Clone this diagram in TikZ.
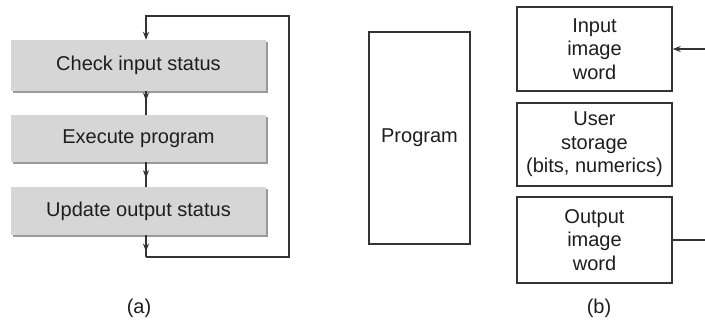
\documentclass[tikz,border=0pt]{standalone}
\usepackage{fontspec}
\setmainfont{Liberation Sans}
\usetikzlibrary{arrows.meta,decorations.markings,shadows}
\definecolor{boxgray}{HTML}{D6D6D6}
\definecolor{shadowc}{HTML}{9A9A9A}
\definecolor{linec}{HTML}{333333}
\definecolor{textc}{HTML}{1E1E1E}
\begin{document}
\begin{tikzpicture}[x=1pt,y=-1pt,
  line/.style={draw=linec, line width=1.4pt},
  arr/.style={line, -{Stealth[length=8pt,width=6pt]}},
  midarrow/.style={postaction={decorate}, decoration={markings, mark=at position #1 with {\arrow[linec]{Stealth[length=8pt,width=6pt]}}}},
  graybox/.style={fill=boxgray, minimum width=255pt, inner sep=0pt,
    general shadow={fill=shadowc, shadow xshift=2pt, shadow yshift=-2pt},
    font=\fontsize{20}{23}\selectfont, text=textc},
  wbox/.style={draw=linec, line width=1.4pt, inner sep=0pt, align=center,
    font=\fontsize{20}{23.5}\selectfont, text=textc},
  lab/.style={font=\fontsize{20}{23}\selectfont, text=textc},
]
\useasboundingbox[fill=white] (0,0) rectangle (705,322);

% (a)
\node[graybox, minimum height=51pt] (b1) at (138.5,65.5) {Check input status};
\node[graybox, minimum height=47pt] (b2) at (138.5,138.5) {Execute program};
\node[graybox, minimum height=48pt] (b3) at (138.5,211) {Update output status};

\coordinate (bl) at (146,257);
\coordinate (br) at (289,257);
\coordinate (tr) at (289,16);
\coordinate (tl) at (146,16);

\draw[line, midarrow=0.4] (b1.south -| tl) -- (b2.north -| tl);
\draw[line, midarrow=0.65] (b2.south -| tl) -- (b3.north -| tl);
\draw[line, midarrow=0.75] (b3.south -| bl) -- (bl);
\draw[arr, line join=miter] (bl) -- (br) -- (tr) -- (tl) -- (b1.north -| tl);

\node[lab] (la) at (139,308) {(a)};

% (b)
\node[wbox, minimum width=101pt, minimum height=212pt] (prog) at (419.5,138) {Program};
\node[wbox, minimum width=155pt, minimum height=84pt] (ib) at (594.5,49) {Input\\image\\word};
\node[wbox, minimum width=155pt, minimum height=83pt] (us) at (594.5,144.5) {User\\storage\\(bits, numerics)};
\node[wbox, minimum width=155pt, minimum height=86pt] (ob) at (594.5,240) {Output\\image\\word};

\coordinate (inR) at (705,49);
\coordinate (outR) at (705,240);
\draw[arr] (inR) -- (ib.east |- inR);
\draw[line] (ob.east |- outR) -- (outR);

\node[lab] (lb) at (599,308) {(b)};
\end{tikzpicture}
\end{document}
